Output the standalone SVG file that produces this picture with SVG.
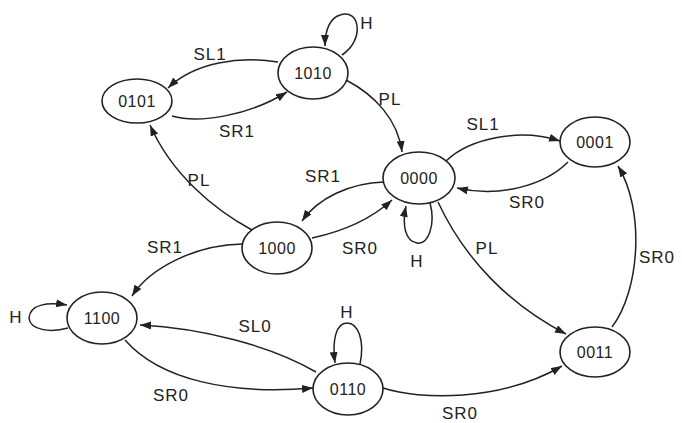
<svg xmlns="http://www.w3.org/2000/svg" width="682" height="423" viewBox="0 0 682 423">
<style>
.node ellipse{fill:#fff;stroke:#222;stroke-width:1.6}
.node text{font-family:"Liberation Sans",Arial,sans-serif;font-size:16px;fill:#222;text-anchor:middle;dominant-baseline:central;letter-spacing:0.5px}
.edges path{fill:none;stroke:#222;stroke-width:1.5;marker-end:url(#arr)}
.lbl{font-family:"Liberation Sans",Arial,sans-serif;font-size:17px;fill:#222;text-anchor:middle;dominant-baseline:central;letter-spacing:1px}
</style>
<defs>
<marker id="arr" markerUnits="userSpaceOnUse" markerWidth="12" markerHeight="10" refX="11" refY="4" orient="auto">
<path d="M0,0 L11,4 L0,8 Z" fill="#222"/>
</marker>
</defs>
<rect width="682" height="423" fill="#fff"/>
<g class="edges">
<path d="M278,62 C240,56 195,62 168,88"/>
<path d="M172,116 C200,124 250,115 287,92"/>
<path d="M342,55 C365,40 360,8 340,15 C330,18 325,30 325,46"/>
<path d="M346,80 C375,95 398,120 402,152"/>
<path d="M446,161 C470,138 520,128 560,141"/>
<path d="M568,162 C545,185 500,198 457,188"/>
<path d="M430,203 C436,225 428,245 417,243 C405,241 402,225 406,206"/>
<path d="M384,182 C350,183 318,198 302,221"/>
<path d="M312,238 C340,232 370,220 392,200"/>
<path d="M252,230 C215,210 172,175 150,125"/>
<path d="M242,244 C195,245 150,268 132,296"/>
<path d="M68,328 C50,333 30,330 29,318 C30,304 48,302 67,305"/>
<path d="M316,372 C270,345 200,328 140,325"/>
<path d="M125,340 C160,380 230,395 313,388"/>
<path d="M360,364 C365,340 358,323 347,323 C336,323 332,340 335,363"/>
<path d="M383,388 C420,400 500,402 562,366"/>
<path d="M438,202 C465,260 510,305 566,334"/>
<path d="M612,327 C640,290 645,210 618,166"/>
</g>
<g id="labels">
<text class="lbl" x="210" y="54">SL1</text>
<text class="lbl" x="237" y="131">SR1</text>
<text class="lbl" x="367" y="23">H</text>
<text class="lbl" x="390" y="99">PL</text>
<text class="lbl" x="483" y="124">SL1</text>
<text class="lbl" x="527" y="202">SR0</text>
<text class="lbl" x="417" y="261">H</text>
<text class="lbl" x="323" y="176">SR1</text>
<text class="lbl" x="360" y="248">SR0</text>
<text class="lbl" x="199" y="180">PL</text>
<text class="lbl" x="165" y="247">SR1</text>
<text class="lbl" x="16" y="317">H</text>
<text class="lbl" x="255" y="326">SL0</text>
<text class="lbl" x="171" y="395">SR0</text>
<text class="lbl" x="347" y="312">H</text>
<text class="lbl" x="460" y="413">SR0</text>
<text class="lbl" x="487" y="248">PL</text>
<text class="lbl" x="657" y="257">SR0</text>
</g>
<g id="n1010" class="node"><ellipse cx="313" cy="73" rx="35" ry="26"/><text x="313" y="73">1010</text></g>
<g id="n0101" class="node"><ellipse cx="137" cy="101" rx="35" ry="22"/><text x="137" y="101">0101</text></g>
<g id="n0000" class="node"><ellipse cx="419" cy="178" rx="36" ry="26"/><text x="419" y="178">0000</text></g>
<g id="n0001" class="node"><ellipse cx="595" cy="142" rx="35" ry="25"/><text x="595" y="142">0001</text></g>
<g id="n1000" class="node"><ellipse cx="277" cy="248" rx="35" ry="26"/><text x="277" y="248">1000</text></g>
<g id="n1100" class="node"><ellipse cx="102" cy="318" rx="35" ry="26"/><text x="102" y="318">1100</text></g>
<g id="n0110" class="node"><ellipse cx="348" cy="389" rx="35" ry="26"/><text x="348" y="389">0110</text></g>
<g id="n0011" class="node"><ellipse cx="595" cy="352" rx="35" ry="25"/><text x="595" y="352">0011</text></g>
</svg>
